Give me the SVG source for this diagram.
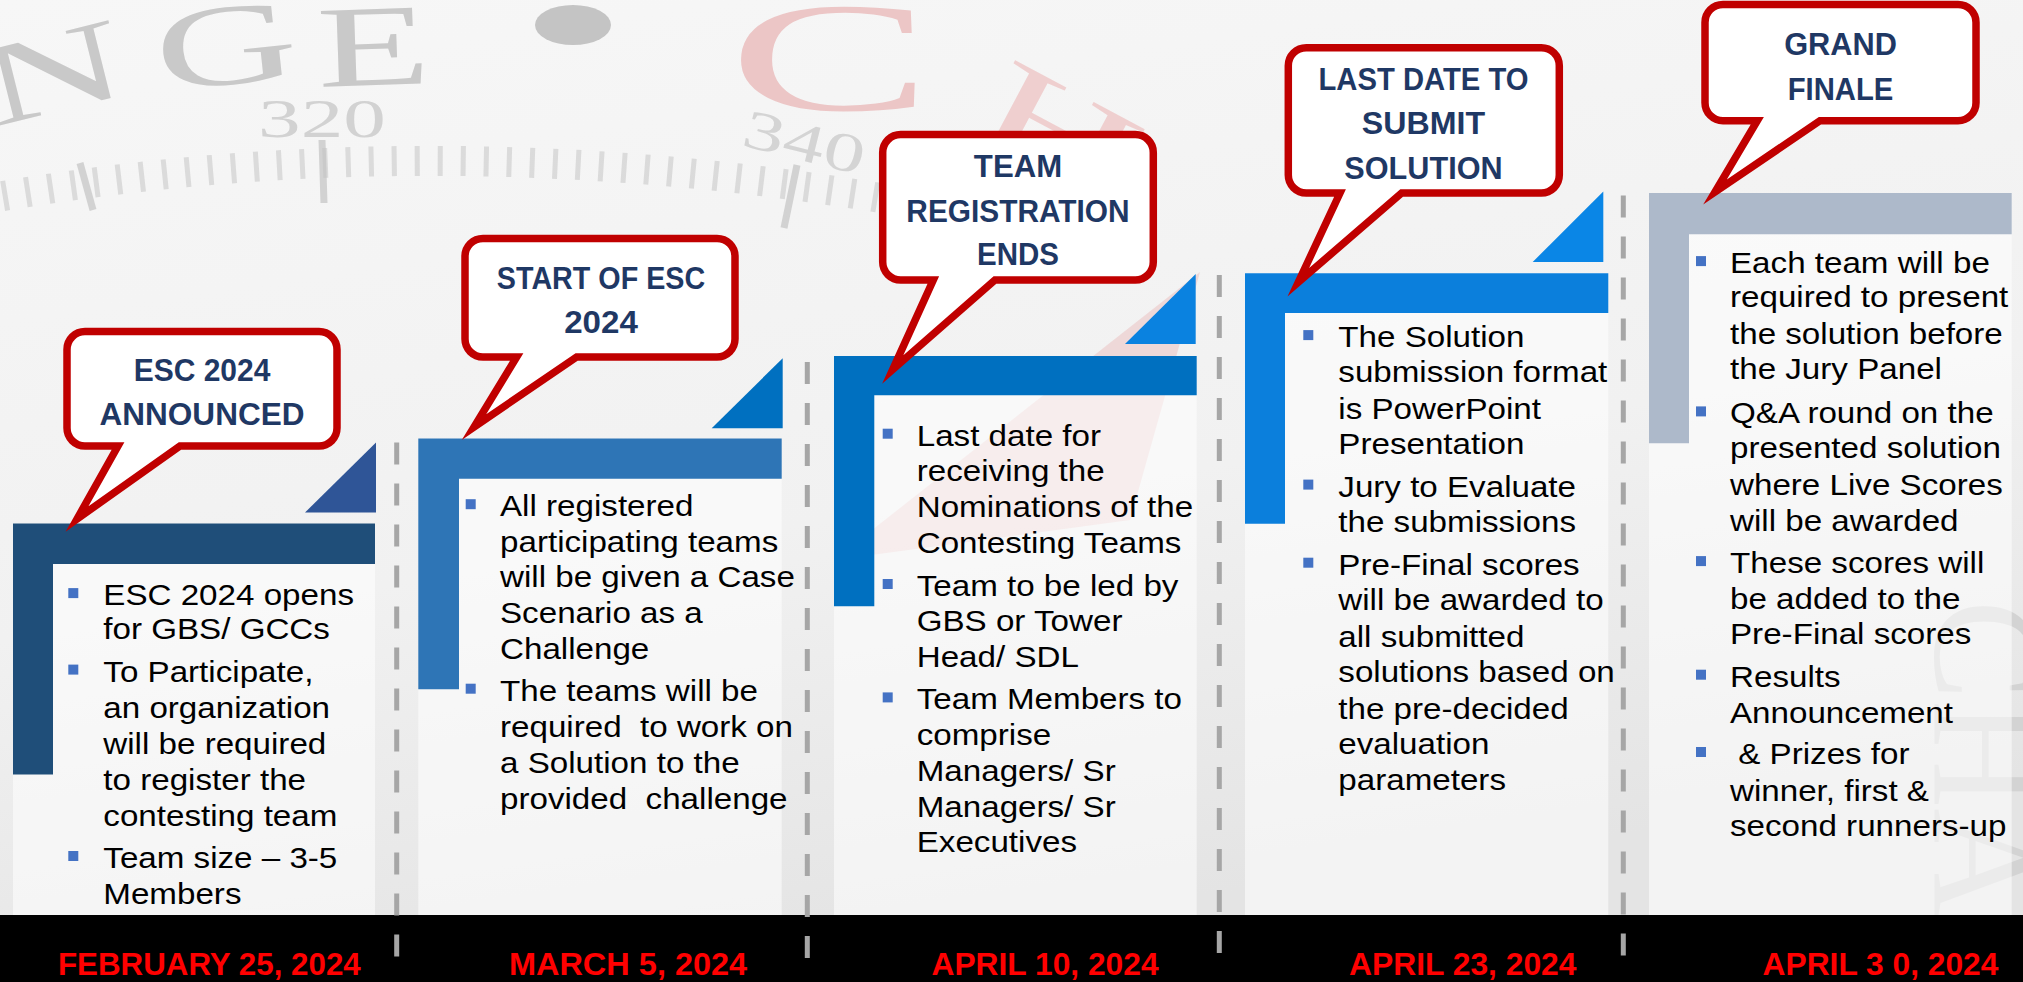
<svg xmlns="http://www.w3.org/2000/svg" width="2023" height="982" viewBox="0 0 2023 982">
<defs>
<linearGradient id="bgGrad" x1="0" y1="0" x2="0.3" y2="1">
<stop offset="0" stop-color="#f7f7f7"/>
<stop offset="0.6" stop-color="#f1f1f1"/>
<stop offset="1" stop-color="#e4e4e4"/>
</linearGradient>
<style>
.deco{font-family:"Liberation Serif",serif;}
.panel{fill:#ffffff;fill-opacity:0.55;}
.sep{stroke:#a6a6a6;stroke-width:5;stroke-dasharray:22 19;fill:none;}
.callout{fill:#ffffff;stroke:#c00000;stroke-width:7.5;stroke-linejoin:miter;stroke-miterlimit:10;}
.ctitle{font-family:"Liberation Sans",Arial,sans-serif;font-weight:bold;font-size:32px;fill:#1f3864;text-anchor:middle;}
.body{font-family:"Liberation Sans",Arial,sans-serif;font-size:29.4px;fill:#000000;}
.bul{fill:#4472c4;}
.date{font-family:"Liberation Sans",Arial,sans-serif;font-weight:bold;font-size:32px;fill:#ff0000;}
</style>
</defs>

<g id="background">
<rect x="0" y="0" width="2023" height="982" fill="url(#bgGrad)"/>
<polygon points="834,560 1200,272 1130,520" fill="#e9b8b8" opacity="0.45"/>
<path d="M -20,200 Q 480,112 1010,222" fill="none" stroke="#c4c4c4" stroke-width="30" stroke-dasharray="5 18" opacity="0.55"/>
<line x1="80" y1="163" x2="93" y2="210" stroke="#c4c4c4" stroke-width="7" opacity="0.7"/>
<line x1="322" y1="140" x2="324" y2="203" stroke="#c4c4c4" stroke-width="7" opacity="0.7"/>
<line x1="797" y1="165" x2="784" y2="228" stroke="#c4c4c4" stroke-width="7" opacity="0.7"/>
<text class="deco" transform="translate(62,110) rotate(-14) scale(1.7,1)" font-size="116" fill="#c9c9c9" text-anchor="middle">N</text>
<text class="deco" transform="translate(230,84) rotate(-6) scale(1.7,1)" font-size="116" fill="#c9c9c9" text-anchor="middle">G</text>
<text class="deco" transform="translate(375,85) rotate(-2) scale(1.6,1)" font-size="116" fill="#c9c9c9" text-anchor="middle">E</text>
<ellipse cx="573" cy="25" rx="38" ry="20" fill="#c4c4c4"/>
<text class="deco" transform="translate(322,137) scale(1.55,1)" font-size="55" fill="#d2d2d2" text-anchor="middle">320</text>
<text class="deco" transform="translate(800,160) rotate(14) scale(1.5,1)" font-size="55" fill="#d4d4d4" text-anchor="middle">340</text>
<text class="deco" transform="translate(830,110) scale(1.95,1)" font-size="156" fill="#ecc6c6" text-anchor="middle">C</text>
<text class="deco" transform="translate(1040,170) rotate(28) scale(1.7,1)" font-size="130" fill="#efcfcf" text-anchor="middle">H</text>
<text class="deco" transform="translate(1935,600) rotate(90)" font-size="150" fill="#d3d3d3">CHA</text>
</g>

<g id="panels">
<rect class="panel" x="13" y="523.6" width="362" height="391.4"/>
<rect class="panel" x="418.3" y="438.5" width="363.4" height="476.5"/>
<rect class="panel" x="834" y="356.1" width="362.7" height="558.9"/>
<rect class="panel" x="1245" y="273.2" width="363.3" height="641.8"/>
<rect class="panel" x="1649" y="193.1" width="362.7" height="721.9"/>
</g>

<rect id="date-bar" x="0" y="915" width="2023" height="67" fill="#000000"/>

<g id="connectors">
<line class="sep" x1="396.7" y1="442.5" x2="396.7" y2="962"/>
<line class="sep" x1="807.3" y1="362" x2="807.3" y2="962"/>
<line class="sep" x1="1219.3" y1="275" x2="1219.3" y2="962"/>
<line class="sep" x1="1623.3" y1="195.6" x2="1623.3" y2="962"/>
</g>

<g id="milestone-1">
<polygon points="13,523.6 375,523.6 375,564.1 53,564.1 53,774.6 13,774.6" fill="#1f4e79"/>
<polygon points="305,512.5 376,512.5 376,442.5" fill="#2f5597"/>
<path class="callout" d="M 85,331.5 H 319 A 18 18 0 0 1 337,349.5 V 428 A 18 18 0 0 1 319,446 H 180 L 77,519 L 118,446 H 85 A 18 18 0 0 1 67,428 V 349.5 A 18 18 0 0 1 85,331.5 Z"/>
<text class="ctitle" x="202" y="381" textLength="136.7" lengthAdjust="spacingAndGlyphs">ESC 2024</text>
<text class="ctitle" x="202" y="425" textLength="205" lengthAdjust="spacingAndGlyphs">ANNOUNCED</text>
<rect class="bul" x="68.3" y="588.1" width="10" height="10"/>
<rect class="bul" x="68.3" y="664.6" width="10" height="10"/>
<rect class="bul" x="68.3" y="851" width="10" height="10"/>
<g class="body" transform="translate(103.3,0) scale(1.128,1)">
<text x="0" y="605.1">ESC 2024 opens</text>
<text x="0" y="639.5">for GBS/ GCCs</text>
<text x="0" y="681.6">To Participate,</text>
<text x="0" y="718">an organization</text>
<text x="0" y="754.4">will be required</text>
<text x="0" y="789.9">to register the</text>
<text x="0" y="825.9">contesting team</text>
<text x="0" y="868">Team size – 3-5</text>
<text x="0" y="903.6">Members</text>
</g>
<text class="date" x="58" y="975" textLength="302.7" lengthAdjust="spacingAndGlyphs">FEBRUARY 25, 2024</text>
</g>

<g id="milestone-2">
<polygon points="418.3,438.5 781.7,438.5 781.7,478.7 459,478.7 459,689.2 418.3,689.2" fill="#2e75b6"/>
<polygon points="711.7,428.2 782.7,428.2 782.7,358.2" fill="#0070c0"/>
<path class="callout" d="M 483,238.4 H 717 A 18 18 0 0 1 735,256.4 V 339 A 18 18 0 0 1 717,357 H 576.7 L 474,427 L 516.7,357 H 483 A 18 18 0 0 1 465,339 V 256.4 A 18 18 0 0 1 483,238.4 Z"/>
<text class="ctitle" x="601" y="289.3" textLength="208.3" lengthAdjust="spacingAndGlyphs">START OF ESC</text>
<text class="ctitle" x="601" y="333.3" textLength="73.7" lengthAdjust="spacingAndGlyphs">2024</text>
<rect class="bul" x="465.7" y="499.2" width="10" height="10"/>
<rect class="bul" x="465.7" y="683.7" width="10" height="10"/>
<g class="body" transform="translate(500,0) scale(1.128,1)">
<text x="0" y="516.2">All registered</text>
<text x="0" y="551.6">participating teams</text>
<text x="0" y="587.5">will be given a Case</text>
<text x="0" y="623">Scenario as a</text>
<text x="0" y="658.6">Challenge</text>
<text x="0" y="700.7">The teams will be</text>
<text x="0" y="737.2" xml:space="preserve">required  to work on</text>
<text x="0" y="773">a Solution to the</text>
<text x="0" y="808.6" xml:space="preserve">provided  challenge</text>
</g>
<text class="date" x="508.9" y="975" textLength="238.3" lengthAdjust="spacingAndGlyphs">MARCH 5, 2024</text>
</g>

<g id="milestone-3">
<polygon points="834,356.1 1196.7,356.1 1196.7,395.3 874.3,395.3 874.3,606.2 834,606.2" fill="#0070c0"/>
<polygon points="1125,344 1195.7,344 1195.7,274.1" fill="#0a82e0"/>
<path class="callout" d="M 900.7,134.5 H 1135.3 A 18 18 0 0 1 1153.3,152.5 V 262 A 18 18 0 0 1 1135.3,280 H 995 L 892.7,369.6 L 933.3,280 H 900.7 A 18 18 0 0 1 882.7,262 V 152.5 A 18 18 0 0 1 900.7,134.5 Z"/>
<text class="ctitle" x="1018" y="177.2" textLength="88.3" lengthAdjust="spacingAndGlyphs">TEAM</text>
<text class="ctitle" x="1018" y="221.8" textLength="223.3" lengthAdjust="spacingAndGlyphs">REGISTRATION</text>
<text class="ctitle" x="1018" y="265.4" textLength="82" lengthAdjust="spacingAndGlyphs">ENDS</text>
<rect class="bul" x="882.7" y="428.7" width="10" height="10"/>
<rect class="bul" x="882.7" y="579" width="10" height="10"/>
<rect class="bul" x="882.7" y="692.4" width="10" height="10"/>
<g class="body" transform="translate(916.7,0) scale(1.128,1)">
<text x="0" y="445.7">Last date for</text>
<text x="0" y="481.1">receiving the</text>
<text x="0" y="517.5">Nominations of the</text>
<text x="0" y="552.9">Contesting Teams</text>
<text x="0" y="596">Team to be led by</text>
<text x="0" y="631.4">GBS or Tower</text>
<text x="0" y="666.8">Head/ SDL</text>
<text x="0" y="709.4">Team Members to</text>
<text x="0" y="745.3">comprise</text>
<text x="0" y="780.7">Managers/ Sr</text>
<text x="0" y="816.6">Managers/ Sr</text>
<text x="0" y="852">Executives</text>
</g>
<text class="date" x="931.5" y="975" textLength="227.1" lengthAdjust="spacingAndGlyphs">APRIL 10, 2024</text>
</g>

<g id="milestone-4">
<polygon points="1245,273.2 1608.3,273.2 1608.3,313 1285,313 1285,523.7 1245,523.7" fill="#0b7fdc"/>
<polygon points="1532.7,262 1603.3,262 1603.3,191.5" fill="#0a86e6"/>
<path class="callout" d="M 1306.3,47.7 H 1541.3 A 18 18 0 0 1 1559.3,65.7 V 175 A 18 18 0 0 1 1541.3,193 H 1401.7 L 1298.3,282.3 L 1340,193 H 1306.3 A 18 18 0 0 1 1288.3,175 V 65.7 A 18 18 0 0 1 1306.3,47.7 Z"/>
<text class="ctitle" x="1423.5" y="89.5" textLength="210" lengthAdjust="spacingAndGlyphs">LAST DATE TO</text>
<text class="ctitle" x="1423.5" y="134.4" textLength="123.3" lengthAdjust="spacingAndGlyphs">SUBMIT</text>
<text class="ctitle" x="1423.5" y="178.8" textLength="158.3" lengthAdjust="spacingAndGlyphs">SOLUTION</text>
<rect class="bul" x="1303.3" y="330.1" width="10" height="10"/>
<rect class="bul" x="1303.3" y="479.6" width="10" height="10"/>
<rect class="bul" x="1303.3" y="557.7" width="10" height="10"/>
<g class="body" transform="translate(1338.3,0) scale(1.128,1)">
<text x="0" y="347.1">The Solution</text>
<text x="0" y="381.8">submission format</text>
<text x="0" y="418.6">is PowerPoint</text>
<text x="0" y="454.3">Presentation</text>
<text x="0" y="496.6">Jury to Evaluate</text>
<text x="0" y="532.3">the submissions</text>
<text x="0" y="574.7">Pre-Final scores</text>
<text x="0" y="610.4">will be awarded to</text>
<text x="0" y="647.1">all submitted</text>
<text x="0" y="681.8">solutions based on</text>
<text x="0" y="718.6">the pre-decided</text>
<text x="0" y="754.3">evaluation</text>
<text x="0" y="790">parameters</text>
</g>
<text class="date" x="1349" y="975" textLength="227.5" lengthAdjust="spacingAndGlyphs">APRIL 23, 2024</text>
</g>

<g id="milestone-5">
<polygon points="1649,193.1 2011.7,193.1 2011.7,234.2 1689,234.2 1689,443.2 1649,443.2" fill="#adb9ca"/>
<path class="callout" d="M 1723,4.4 H 1958 A 18 18 0 0 1 1976,22.4 V 102.7 A 18 18 0 0 1 1958,120.7 H 1820 L 1715,192 L 1757.3,120.7 H 1723 A 18 18 0 0 1 1705,102.7 V 22.4 A 18 18 0 0 1 1723,4.4 Z"/>
<text class="ctitle" x="1840.5" y="54.8" textLength="112.7" lengthAdjust="spacingAndGlyphs">GRAND</text>
<text class="ctitle" x="1840.5" y="99.8" textLength="105.7" lengthAdjust="spacingAndGlyphs">FINALE</text>
<rect class="bul" x="1696" y="256.1" width="10" height="10"/>
<rect class="bul" x="1696" y="406.4" width="10" height="10"/>
<rect class="bul" x="1696" y="556.1" width="10" height="10"/>
<rect class="bul" x="1696" y="669.7" width="10" height="10"/>
<rect class="bul" x="1696" y="747" width="10" height="10"/>
<g class="body" transform="translate(1730,0) scale(1.128,1)">
<text x="0" y="273.1">Each team will be</text>
<text x="0" y="307.1">required to present</text>
<text x="0" y="344.4">the solution before</text>
<text x="0" y="379.5">the Jury Panel</text>
<text x="0" y="423.4">Q&amp;A round on the</text>
<text x="0" y="458.5">presented solution</text>
<text x="0" y="494.7">where Live Scores</text>
<text x="0" y="530.9">will be awarded</text>
<text x="0" y="573.1">These scores will</text>
<text x="0" y="608.8">be added to the</text>
<text x="0" y="644.4">Pre-Final scores</text>
<text x="0" y="686.7">Results</text>
<text x="0" y="722.9">Announcement</text>
<text x="7.3" y="764">&amp; Prizes for</text>
<text x="0" y="800.7">winner, first &amp;</text>
<text x="0" y="836.4">second runners-up</text>
</g>
<text class="date" x="1762.6" y="975" textLength="235.8" lengthAdjust="spacingAndGlyphs">APRIL 3 0, 2024</text>
</g>
</svg>
